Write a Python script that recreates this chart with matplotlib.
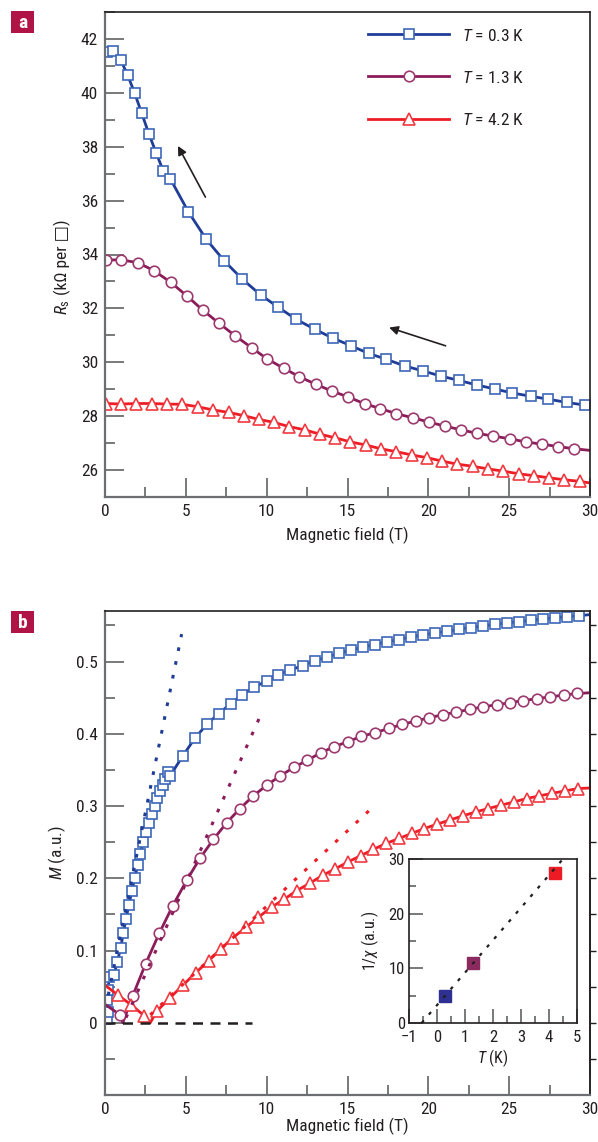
import numpy as np
import matplotlib
matplotlib.use('Agg')
import matplotlib.pyplot as plt
from matplotlib import font_manager as fm
from matplotlib.patches import Rectangle
from matplotlib.ticker import MultipleLocator

avail = {f.name for f in fm.fontManager.ttflist}
base = next((f for f in ['Liberation Sans Narrow', 'Roboto Condensed', 'Liberation Sans']
             if f in avail), 'DejaVu Sans')
plt.rcParams['font.family'] = [base, 'DejaVu Sans']
plt.rcParams['mathtext.fontset'] = 'custom'
plt.rcParams['mathtext.rm'] = base
plt.rcParams['mathtext.it'] = base + ':italic'

# ---------------- data: panel a (R_s vs B) ----------------
a_blue_x = [0.1, 0.5, 0.97, 1.4, 1.84, 2.27, 2.72, 3.17, 3.6, 4.04, 5.15, 6.27, 7.38, 8.5, 9.63,
            10.72, 11.81, 12.99, 14.08, 15.19, 16.3, 17.41, 18.55, 19.67, 20.76, 21.87, 22.98,
            24.1, 25.2, 26.32, 27.43, 28.55, 29.7, 30.0]
a_blue_y = [41.5, 41.55, 41.22, 40.66, 39.98, 39.24, 38.47, 37.76, 37.11, 36.81, 35.59, 34.56,
            33.76, 33.08, 32.5, 32.04, 31.6, 31.22, 30.9, 30.62, 30.33, 30.11, 29.86, 29.68,
            29.49, 29.33, 29.16, 29.01, 28.86, 28.74, 28.63, 28.51, 28.41, 28.38]
a_purple_x = [0.06, 0.99, 2.02, 3.03, 4.06, 5.05, 6.04, 7.05, 8.06, 9.07, 10.04, 11.05, 12.0,
              13.05, 14.04, 15.05, 16.06, 17.04, 18.03, 19.04, 20.03, 21.04, 22.03, 23.04,
              24.03, 25.05, 26.06, 27.04, 28.03, 29.04, 30.0]
a_purple_y = [33.8, 33.8, 33.7, 33.4, 32.97, 32.47, 31.94, 31.45, 30.98, 30.54, 30.12, 29.78,
              29.47, 29.18, 28.93, 28.71, 28.46, 28.28, 28.09, 27.94, 27.78, 27.63, 27.49,
              27.36, 27.26, 27.16, 27.04, 26.96, 26.87, 26.79, 26.73]
a_red_x = [0.06, 0.99, 1.92, 2.88, 3.81, 4.78, 5.73, 6.7, 7.65, 8.58, 9.51, 10.45, 11.4, 12.37,
           13.3, 14.22, 15.15, 16.12, 17.06, 18.03, 18.98, 19.91, 20.86, 21.78, 22.75, 23.72,
           24.63, 25.6, 26.54, 27.49, 28.42, 29.37, 30.0]
a_red_y = [28.47, 28.45, 28.47, 28.47, 28.45, 28.44, 28.35, 28.23, 28.14, 28.02, 27.88, 27.77,
           27.61, 27.49, 27.33, 27.2, 27.05, 26.93, 26.79, 26.68, 26.56, 26.46, 26.33, 26.22,
           26.14, 26.04, 25.96, 25.86, 25.79, 25.71, 25.64, 25.58, 25.52]

# ---------------- data: panel b (M vs B) ----------------
b_blue_x = [0.12, 0.18, 0.15, 0.2, 0.25, 0.55, 0.76, 0.97, 1.13, 1.3, 1.48, 1.67, 1.84, 2.02,
            2.19, 2.35, 2.54, 2.72, 2.89, 3.07, 3.23, 3.4, 3.57, 3.73, 3.91, 4.02, 4.8, 5.55,
            6.29, 7.03, 7.77, 8.49, 9.23, 10.0, 10.68, 11.44, 12.23, 12.97, 13.71, 14.45,
            15.19, 15.94, 16.68, 17.42, 18.16, 18.91, 19.65, 20.39, 21.13, 21.87, 22.62, 23.36,
            24.1, 24.84, 25.58, 26.33, 27.07, 27.81, 28.55, 29.29, 30.0]
b_blue_y = [0.005, 0.015, 0.032, 0.045, 0.064, 0.066, 0.084, 0.1036, 0.124, 0.1436, 0.1634,
            0.1827, 0.2007, 0.2182, 0.2343, 0.2496, 0.2642, 0.2772, 0.2896, 0.3007, 0.3108,
            0.3204, 0.3297, 0.338, 0.3476, 0.3416, 0.369, 0.3936, 0.413, 0.428, 0.4415, 0.4544,
            0.4645, 0.4733, 0.4816, 0.488, 0.4945, 0.5014, 0.506, 0.5115, 0.5157, 0.5198,
            0.5235, 0.5272, 0.5304, 0.5341, 0.5368, 0.5396, 0.5418, 0.5446, 0.547, 0.5493,
            0.5515, 0.5534, 0.5552, 0.557, 0.559, 0.5603, 0.5621, 0.5635, 0.565]
b_purple_x = [0.1, 0.93, 1.1, 1.71, 2.52, 3.36, 4.19, 5.05, 5.87, 6.7, 7.53, 8.35, 9.17, 10.0,
              10.85, 11.72, 12.51, 13.36, 14.18, 15.01, 15.85, 16.7, 17.56, 18.39, 19.21,
              20.04, 20.88, 21.71, 22.55, 23.4, 24.22, 25.05, 25.87, 26.7, 27.52, 28.37, 29.19,
              30.0]
b_purple_y = [0.024, 0.011, 0.0, 0.037, 0.082, 0.124, 0.162, 0.197, 0.2275, 0.2537, 0.277,
              0.2965, 0.314, 0.3287, 0.342, 0.354, 0.3633, 0.3739, 0.3822, 0.389, 0.3964,
              0.4015, 0.4075, 0.413, 0.4176, 0.4222, 0.4263, 0.43, 0.4337, 0.4374, 0.4402,
              0.443, 0.4461, 0.4485, 0.4512, 0.4535, 0.4558, 0.4568]
b_red_x = [0.0, 0.82, 1.61, 2.41, 2.8, 3.2, 4.02, 4.8, 5.6, 6.42, 7.15, 7.93, 8.72, 9.48, 10.3,
           11.08, 11.87, 12.68, 13.46, 14.23, 15.05, 15.83, 16.6, 17.38, 18.18, 18.97, 19.75,
           20.55, 21.34, 22.12, 22.92, 23.7, 24.49, 25.29, 26.08, 26.86, 27.66, 28.45, 29.23,
           30.0]
b_red_y = [0.052, 0.038, 0.025, 0.010, 0.0, 0.016, 0.0345, 0.0516, 0.069, 0.086, 0.102, 0.118,
           0.132, 0.146, 0.160, 0.171, 0.183, 0.1934, 0.204, 0.213, 0.2228, 0.2315, 0.24,
           0.2482, 0.2551, 0.262, 0.2689, 0.2749, 0.2808, 0.2863, 0.2918, 0.2965, 0.3011,
           0.3057, 0.3104, 0.314, 0.3177, 0.3209, 0.3242, 0.325]
b_red_unmarked = [0, 4, 39]
b_purple_unmarked = [0, 2, 37]

# linear fits (dotted) in panel b: endpoints
fit_blue_x, fit_blue_y = [0.2, 4.74], [0.038, 0.538]
fit_purple_x, fit_purple_y = [1.3, 9.69], [0.007, 0.429]
fit_red_x, fit_red_y = [2.8, 16.43], [0.011, 0.2956]
zero_x, zero_y = [0.0, 9.07], [0.0, 0.0]

# inset: 1/chi vs T
inset_T = [0.3, 1.3, 4.2]
inset_invchi = [5.0, 11.0, 27.5]
inset_fit_T = [-0.55, 4.49]
inset_fit_y = [0.0, 29.95]

labels = ['$T$ = 0.3 K', '$T$ = 1.3 K', '$T$ = 4.2 K']

C_BLUE, C_BLUE_M = '#1f3d96', '#3d66b8'
C_PUR, C_PUR_M = '#8a1c5a', '#9c3a6e'
C_RED, C_RED_M = '#ee1c25', '#f03a40'
GRAY = '#6d6e71'
DARK = '#231f20'

fig = plt.figure(figsize=(5.98, 11.42), dpi=100)
W, H = 598.0, 1142.0
axA = fig.add_axes([105 / W, 1 - 497 / H, 485 / W, 485 / H])
axB = fig.add_axes([105 / W, 1 - 1095 / H, 485 / W, 484 / H])
axI = fig.add_axes([409 / W, 1 - 1023 / H, 168 / W, 164 / H])


def style(ax, major=14, minor=7, size=12.5, pad=5):
    for s in ['left', 'bottom']:
        ax.spines[s].set_color(GRAY)
        ax.spines[s].set_linewidth(1.6)
    for s in ['top', 'right']:
        ax.spines[s].set_color(DARK)
        ax.spines[s].set_linewidth(1.2)
    ax.tick_params(which='both', direction='in', color=GRAY, width=1.3,
                   labelsize=size, pad=pad, labelcolor=DARK)
    ax.tick_params(which='major', length=major)
    ax.tick_params(which='minor', length=minor)


def series(ax, x, y, marker, lc, mc, label, ms, unmarked=()):
    idx = [i for i in range(len(x)) if i not in unmarked]
    ax.plot(x, y, '-', color=lc, lw=2.0, marker=marker, markevery=idx, ms=ms,
            mfc='white', mec=mc, mew=1.2, label=label)


# ---------------- panel a ----------------
series(axA, a_blue_x, a_blue_y, 's', C_BLUE, C_BLUE_M, labels[0], 7.2, [len(a_blue_x) - 1])
series(axA, a_purple_x, a_purple_y, 'o', C_PUR, C_PUR_M, labels[1], 7.6, [len(a_purple_x) - 1])
series(axA, a_red_x, a_red_y, '^', C_RED, C_RED_M, labels[2], 8.2, [len(a_red_x) - 1])
axA.set_xlim(0, 30)
axA.set_ylim(25, 43)
axA.xaxis.set_major_locator(MultipleLocator(5))
axA.xaxis.set_minor_locator(MultipleLocator(2.5))
axA.yaxis.set_major_locator(MultipleLocator(2))
axA.yaxis.set_minor_locator(MultipleLocator(1))
style(axA)
axA.set_xlabel('Magnetic field (T)', fontsize=12.5, color=DARK)
axA.xaxis.set_label_coords(0.5, -0.062)
# y label: italic R_s (mathtext) + plain text part (with glyph fallback for the square)
axA.text(-0.078, 0.408, '$R_{\\mathrm{s}}$', transform=axA.transAxes, rotation=90,
         rotation_mode='anchor', ha='right', va='baseline', fontsize=12.5, color=DARK)
axA.text(-0.078, 0.408, ' (kΩ per □)', transform=axA.transAxes, rotation=90,
         rotation_mode='anchor', ha='left', va='baseline', fontsize=12.5, color=DARK,
         family=[base, 'DejaVu Sans'])
axA.annotate('', xy=(4.43, 38.12), xytext=(6.29, 36.04),
             arrowprops=dict(arrowstyle='-|>', color=DARK, lw=1.2, mutation_scale=13))
axA.annotate('', xy=(17.41, 31.32), xytext=(21.23, 30.58),
             arrowprops=dict(arrowstyle='-|>', color=DARK, lw=1.2, mutation_scale=13))
leg = axA.legend(loc='upper left', bbox_to_anchor=(0.542, 0.968), frameon=False,
                 fontsize=12.5, handlelength=4.7, handletextpad=0.75, labelspacing=1.5,
                 borderpad=0, borderaxespad=0)
for t in leg.get_texts():
    t.set_color(DARK)

# ---------------- panel b ----------------
series(axB, b_blue_x, b_blue_y, 's', C_BLUE, C_BLUE_M, labels[0], 7.2, [len(b_blue_x) - 1])
series(axB, b_purple_x, b_purple_y, 'o', C_PUR, C_PUR_M, labels[1], 7.6, b_purple_unmarked)
series(axB, b_red_x, b_red_y, '^', C_RED, C_RED_M, labels[2], 8.2, b_red_unmarked)
dots = (0, (1.2, 3.4))
axB.plot(fit_blue_x, fit_blue_y, color=C_BLUE, lw=2.2, ls=dots)
axB.plot(fit_purple_x, fit_purple_y, color=C_PUR, lw=2.2, ls=dots)
axB.plot(fit_red_x, fit_red_y, color=C_RED, lw=2.2, ls=dots)
axB.plot(zero_x, zero_y, color=DARK, lw=1.8, ls=(0, (4, 3)))
axB.set_xlim(0, 30)
axB.set_ylim(-0.1, 0.57)
axB.xaxis.set_major_locator(MultipleLocator(5))
axB.xaxis.set_minor_locator(MultipleLocator(2.5))
axB.yaxis.set_minor_locator(MultipleLocator(0.05))
axB.set_yticks([0, 0.1, 0.2, 0.3, 0.4, 0.5])
axB.set_yticklabels(['0', '0.1', '0.2', '0.3', '0.4', '0.5'])
style(axB)
sec = axB.secondary_yaxis('right')
sec.set_yticks([-0.05, 0, 0.05, 0.1, 0.15, 0.2, 0.25, 0.3, 0.35, 0.4, 0.45, 0.5, 0.55])
sec.tick_params(direction='out', length=4, width=1.0, color=DARK, labelright=False)
sec.spines['right'].set_color(DARK)
sec.spines['right'].set_linewidth(1.2)
axB.set_xlabel('Magnetic field (T)', fontsize=12.5, color=DARK)
axB.xaxis.set_label_coords(0.5, -0.047)
axB.set_ylabel('$M$ (a.u.)', fontsize=12.5, color=DARK)
axB.yaxis.set_label_coords(-0.076, 0.5)

# ---------------- inset ----------------
axI.plot(inset_fit_T, inset_fit_y, color=DARK, lw=1.6, ls=(0, (1.5, 3.5)), zorder=3)
for T, v, c in zip(inset_T, inset_invchi, ['#2e3192', '#8b2a5e', '#ed1c24']):
    axI.plot([T], [v], 's', ms=9, color=c, mec=c, zorder=2)
axI.set_xlim(-1, 5)
axI.set_ylim(0, 30)
axI.xaxis.set_major_locator(MultipleLocator(1))
axI.xaxis.set_minor_locator(MultipleLocator(0.5))
axI.yaxis.set_major_locator(MultipleLocator(10))
axI.yaxis.set_minor_locator(MultipleLocator(5))
style(axI, major=10, minor=5, size=12, pad=3)
axI.tick_params(axis='x', pad=5)
for s in axI.spines.values():
    s.set_color(DARK)
    s.set_linewidth(1.2)
axI.set_xlabel('$T$ (K)', fontsize=11.5, color=DARK)
axI.xaxis.set_label_coords(0.5, -0.15)
axI.set_ylabel('1/$\\chi$ (a.u.)', fontsize=11.5, color=DARK)
axI.yaxis.set_label_coords(-0.165, 0.5)

# ---------------- panel letters ----------------
for letter, top in [('a', 11), ('b', 611)]:
    fig.patches.append(Rectangle((11 / W, 1 - (top + 22) / H), 23 / W, 22 / H,
                                 transform=fig.transFigure, facecolor='#b01446',
                                 edgecolor='none'))
    fig.text(22.5 / W, 1 - (top + 11.5) / H, letter, color='white', ha='center',
             va='center', fontsize=14, fontweight='bold')

fig.savefig('out.png', dpi=100)
